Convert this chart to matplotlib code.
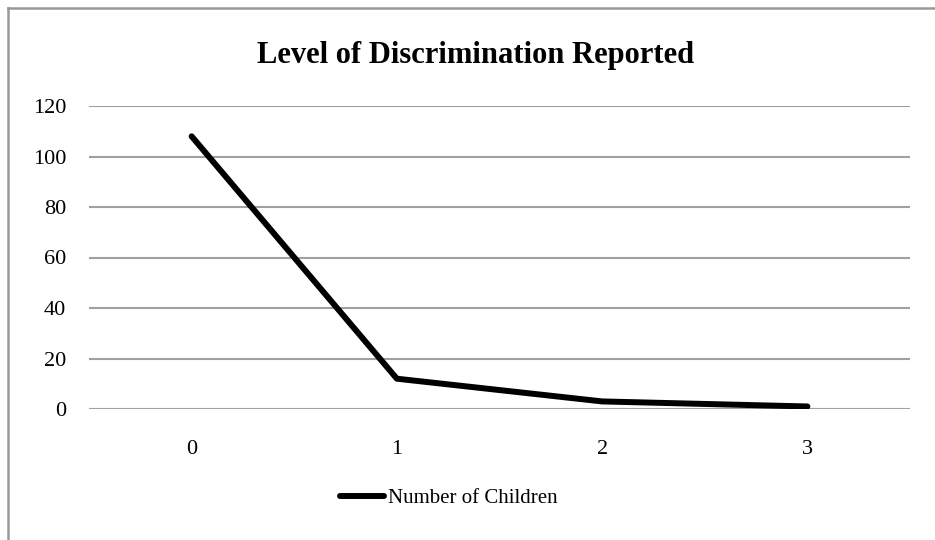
import matplotlib.pyplot as plt
from matplotlib.lines import Line2D

categories = ["0", "1", "2", "3"]
counts = [108, 12, 3, 1]
yticks = [0, 20, 40, 60, 80, 100, 120]

plt.rcParams['font.family'] = ['Liberation Serif', 'DejaVu Serif']

fig = plt.figure(figsize=(9.35, 5.4), dpi=100)
ax = fig.add_axes([89 / 935, 1 - 409 / 540, 821 / 935, 303 / 540])

x = list(range(len(categories)))
ax.plot(x, counts, color='black', linewidth=4.3, solid_capstyle='round',
        solid_joinstyle='round', label="Number of Children")

ax.set_xlim(-0.5, len(categories) - 0.5)
ax.set_ylim(0, 120)
ax.set_xticks(x)
ax.set_xticklabels(categories)
ax.set_yticks(yticks)
ax.yaxis.grid(True, color='#a0a0a0', linewidth=1.5)
ax.set_axisbelow(True)
for side in ['top', 'right', 'left', 'bottom']:
    ax.spines[side].set_visible(False)
ax.tick_params(axis='both', length=0, labelsize=16)
ax.tick_params(axis='x', pad=22)
ax.tick_params(axis='y', pad=16.5)

fig.text(476 / 935, 1 - 56 / 540, "Level of Discrimination Reported",
         ha='center', va='center', fontsize=22, fontweight='bold')

# legend below the plot
leg = fig.legend(handles=[Line2D([0], [0], color='black', linewidth=4.3,
                                 solid_capstyle='round')],
                 labels=["Number of Children"], loc='center',
                 bbox_to_anchor=(449 / 935, 1 - 498 / 540), frameon=False,
                 fontsize=15, handlelength=2.1, handletextpad=0.2)

# outer chart frame (top and left edges visible)
fig.add_artist(Line2D([8 / 935, 1], [1 - 7.5 / 540, 1 - 7.5 / 540],
                      color='#999999', linewidth=1.8, transform=fig.transFigure))
fig.add_artist(Line2D([8 / 935, 8 / 935], [0, 1 - 7.5 / 540],
                      color='#999999', linewidth=1.8, transform=fig.transFigure))

fig.savefig("out.png", dpi=100)
